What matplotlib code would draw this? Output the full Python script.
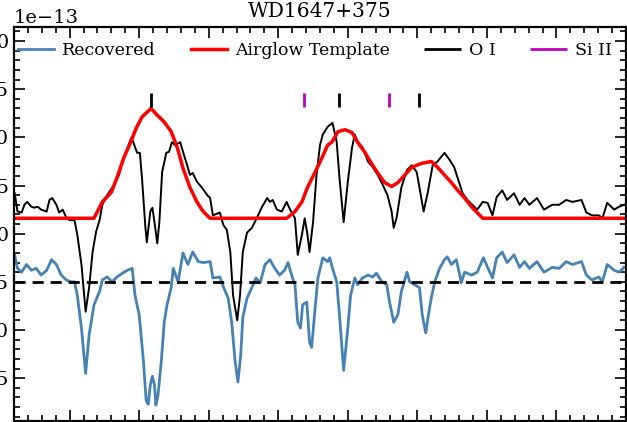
import numpy as np
import matplotlib
matplotlib.use("Agg")
import matplotlib.pyplot as plt
from matplotlib.ticker import MultipleLocator

plt.rcParams["font.family"] = ["DejaVu Serif"]
plt.rcParams["mathtext.fontset"] = "dejavuserif"

# observed spectrum (flux in 1e-13 units)
obs_wl = [1300.21, 1300.25, 1300.31, 1300.35, 1300.39, 1300.45, 1300.49, 1300.54, 1300.59, 1300.67,
          1300.71, 1300.75, 1300.81, 1300.85, 1300.90, 1300.95, 1301.00, 1301.07, 1301.11, 1301.17,
          1301.23, 1301.28, 1301.33, 1301.38, 1301.43, 1301.47, 1301.54, 1301.64, 1301.71, 1301.76,
          1301.81, 1301.89, 1301.93, 1301.97, 1302.01, 1302.04, 1302.09, 1302.11, 1302.16, 1302.19,
          1302.22, 1302.26, 1302.29, 1302.33, 1302.39, 1302.43, 1302.47, 1302.52, 1302.59, 1302.63,
          1302.69, 1302.73, 1302.77, 1302.83, 1302.90, 1302.98, 1303.02, 1303.06, 1303.16, 1303.21,
          1303.26, 1303.31, 1303.35, 1303.41, 1303.45, 1303.49, 1303.55, 1303.62, 1303.69, 1303.76,
          1303.84, 1303.88, 1303.92, 1303.98, 1304.05, 1304.12, 1304.17, 1304.24, 1304.28, 1304.34,
          1304.38, 1304.42, 1304.45, 1304.50, 1304.55, 1304.60, 1304.64, 1304.71, 1304.78, 1304.84,
          1304.88, 1304.94, 1305.00, 1305.06, 1305.10, 1305.14, 1305.21, 1305.29, 1305.36, 1305.43,
          1305.50, 1305.57, 1305.63, 1305.66, 1305.70, 1305.77, 1305.85, 1305.92, 1305.99, 1306.03,
          1306.09, 1306.15, 1306.22, 1306.29, 1306.39, 1306.46, 1306.53, 1306.61, 1306.65, 1306.72,
          1306.79, 1306.86, 1306.94, 1307.01, 1307.08, 1307.14, 1307.22, 1307.29, 1307.39, 1307.47,
          1307.54, 1307.61, 1307.72, 1307.82, 1307.94, 1308.04, 1308.14, 1308.23, 1308.36, 1308.43,
          1308.51, 1308.61, 1308.66, 1308.73, 1308.83, 1308.90, 1308.97]
obs_flux = [1.42, 1.23, 1.22, 1.30, 1.33, 1.28, 1.27, 1.28, 1.25, 1.23,
            1.35, 1.37, 1.30, 1.22, 1.25, 1.17, 1.14, 1.14, 0.99, 0.68,
            0.19, 0.44, 0.81, 1.02, 1.14, 1.30, 1.40, 1.51, 1.61, 1.75,
            1.85, 2.00, 1.92, 1.84, 1.84, 1.58, 1.06, 0.91, 1.23, 1.27,
            1.12, 0.90, 1.12, 1.64, 1.84, 1.85, 1.95, 1.92, 1.95, 1.85,
            1.71, 1.61, 1.63, 1.54, 1.48, 1.40, 1.37, 1.19, 1.22, 1.09,
            1.04, 0.81, 0.36, 0.10, 0.36, 0.81, 1.01, 1.06, 1.16, 1.27,
            1.37, 1.33, 1.35, 1.25, 1.23, 1.33, 1.25, 1.16, 0.78, 0.99,
            1.16, 0.99, 0.81, 1.12, 1.61, 1.92, 2.03, 2.11, 2.15, 1.95,
            1.58, 1.12, 1.54, 1.89, 2.03, 1.95, 1.90, 1.75, 1.69, 1.61,
            1.51, 1.40, 1.23, 1.06, 1.16, 1.48, 1.66, 1.71, 1.64, 1.48,
            1.23, 1.43, 1.71, 1.75, 1.84, 1.77, 1.69, 1.51, 1.42, 1.35,
            1.30, 1.25, 1.33, 1.32, 1.19, 1.38, 1.45, 1.35, 1.42, 1.30,
            1.37, 1.30, 1.37, 1.25, 1.30, 1.30, 1.35, 1.33, 1.35, 1.22,
            1.19, 1.19, 1.16, 1.32, 1.25, 1.28, 1.30]

# airglow template
tmpl_wl = [1300.21, 1301.35, 1301.47, 1301.60, 1301.68, 1301.78, 1301.86, 1301.96, 1302.04, 1302.11,
           1302.17, 1302.26, 1302.36, 1302.46, 1302.55, 1302.63, 1302.73, 1302.83, 1302.92, 1303.02,
           1304.12, 1304.24, 1304.34, 1304.42, 1304.53, 1304.63, 1304.71, 1304.77, 1304.86, 1304.96,
           1305.06, 1305.14, 1305.24, 1305.34, 1305.43, 1305.53, 1305.63, 1305.72, 1305.82, 1305.92,
           1306.06, 1306.20, 1306.29, 1306.39, 1306.49, 1306.58, 1306.68, 1306.79, 1306.94, 1308.99]
tmpl_flux = [1.16, 1.16, 1.33, 1.43, 1.58, 1.79, 1.92, 2.10, 2.21, 2.26,
             2.30, 2.23, 2.16, 2.06, 1.89, 1.68, 1.48, 1.33, 1.23, 1.16,
             1.16, 1.23, 1.33, 1.48, 1.64, 1.79, 1.92, 1.95, 2.06, 2.08,
             2.05, 1.95, 1.85, 1.73, 1.63, 1.53, 1.49, 1.53, 1.61, 1.69,
             1.73, 1.75, 1.69, 1.61, 1.53, 1.45, 1.37, 1.27, 1.16, 1.16]

# recovered spectrum
rec_wl = [1300.21, 1300.25, 1300.31, 1300.38, 1300.45, 1300.52, 1300.59, 1300.67, 1300.74, 1300.81,
          1300.88, 1300.95, 1301.02, 1301.07, 1301.11, 1301.17, 1301.23, 1301.28, 1301.35, 1301.43,
          1301.47, 1301.54, 1301.61, 1301.68, 1301.76, 1301.83, 1301.90, 1301.94, 1302.00, 1302.06,
          1302.10, 1302.13, 1302.16, 1302.19, 1302.22, 1302.24, 1302.27, 1302.32, 1302.36, 1302.40,
          1302.46, 1302.49, 1302.56, 1302.63, 1302.70, 1302.77, 1302.85, 1302.92, 1303.02, 1303.06,
          1303.16, 1303.21, 1303.28, 1303.33, 1303.38, 1303.42, 1303.46, 1303.49, 1303.55, 1303.62,
          1303.68, 1303.74, 1303.81, 1303.88, 1303.95, 1304.02, 1304.09, 1304.14, 1304.20, 1304.24,
          1304.28, 1304.32, 1304.35, 1304.41, 1304.45, 1304.48, 1304.53, 1304.57, 1304.64, 1304.71,
          1304.74, 1304.78, 1304.84, 1304.88, 1304.94, 1305.00, 1305.04, 1305.10, 1305.14, 1305.21,
          1305.29, 1305.36, 1305.41, 1305.49, 1305.56, 1305.60, 1305.66, 1305.72, 1305.77, 1305.85,
          1305.89, 1305.96, 1306.03, 1306.07, 1306.12, 1306.16, 1306.20, 1306.25, 1306.32, 1306.39,
          1306.43, 1306.49, 1306.56, 1306.61, 1306.63, 1306.68, 1306.78, 1306.86, 1306.95, 1307.01,
          1307.08, 1307.14, 1307.22, 1307.29, 1307.39, 1307.47, 1307.54, 1307.61, 1307.72, 1307.82,
          1307.94, 1308.04, 1308.14, 1308.23, 1308.36, 1308.43, 1308.51, 1308.61, 1308.66, 1308.73,
          1308.83, 1308.90, 1308.97]
rec_flux = [0.78, 0.64, 0.60, 0.68, 0.62, 0.64, 0.57, 0.62, 0.73, 0.68,
            0.57, 0.52, 0.50, 0.50, 0.36, 0.02, -0.45, -0.05, 0.26, 0.40,
            0.52, 0.55, 0.50, 0.55, 0.59, 0.62, 0.64, 0.36, 0.16, -0.31,
            -0.73, -0.77, -0.57, -0.48, -0.57, -0.78, -0.68, -0.31, 0.08, 0.26,
            0.44, 0.64, 0.50, 0.80, 0.68, 0.81, 0.71, 0.70, 0.71, 0.54,
            0.55, 0.45, 0.33, 0.08, -0.33, -0.54, -0.26, 0.13, 0.33, 0.44,
            0.54, 0.49, 0.68, 0.73, 0.64, 0.57, 0.62, 0.70, 0.55, 0.47,
            0.08, 0.02, 0.26, 0.29, -0.13, -0.18, 0.23, 0.54, 0.75, 0.71,
            0.75, 0.64, 0.50, 0.16, -0.42, 0.02, 0.36, 0.54, 0.47, 0.54,
            0.57, 0.55, 0.59, 0.50, 0.47, 0.29, 0.08, 0.16, 0.40, 0.60,
            0.50, 0.47, 0.44, 0.16, -0.03, 0.16, 0.33, 0.50, 0.64, 0.73,
            0.76, 0.68, 0.73, 0.57, 0.49, 0.60, 0.57, 0.60, 0.75, 0.65,
            0.54, 0.75, 0.81, 0.70, 0.78, 0.65, 0.71, 0.64, 0.71, 0.60,
            0.65, 0.64, 0.71, 0.68, 0.71, 0.57, 0.52, 0.55, 0.50, 0.68,
            0.62, 0.60, 0.65]

continuum = 0.5
oi_lines = [1302.17, 1304.87, 1306.03]
siii_lines = [1304.37, 1305.59]
mark_lo, mark_hi = 2.32, 2.46
scale = 1e-13

fig = plt.figure(figsize=(6.27, 4.22), dpi=100)
ax = fig.add_axes([14 / 627, 1 / 422, 612 / 627, 394 / 422])

ax.plot(rec_wl, np.array(rec_flux) * scale, color="steelblue", lw=2, label="Recovered")
ax.plot(tmpl_wl, np.array(tmpl_flux) * scale, color="red", lw=2.5, label="Airglow Template")
ax.plot(obs_wl, np.array(obs_flux) * scale, color="black", lw=1.4, zorder=1)
ax.axhline(continuum * scale, color="black", ls="--", lw=2, dashes=(4, 2.5))

ax.vlines(oi_lines, mark_lo * scale, mark_hi * scale, color="black", lw=2, label="O I")
ax.vlines(siii_lines, mark_lo * scale, mark_hi * scale, color="m", lw=2, label="Si II")

ax.set_xlim(1300.2, 1309.0)
ax.set_ylim(-0.945 * scale, 3.146 * scale)
ax.xaxis.set_major_locator(MultipleLocator(1))
ax.xaxis.set_minor_locator(MultipleLocator(0.2))
ax.yaxis.set_major_locator(MultipleLocator(0.5 * scale))
ax.yaxis.set_minor_locator(MultipleLocator(0.1 * scale))
ax.tick_params(which="both", direction="in", top=True, right=True, labelsize=14, width=1.2)
ax.tick_params(which="major", length=8)
ax.tick_params(which="minor", length=4.5)
ax.yaxis.get_offset_text().set_fontsize(14)
for s in ax.spines.values():
    s.set_linewidth(1.6)

handles, labels = ax.get_legend_handles_labels()
ax.legend(handles, labels, loc="upper left", ncol=4, frameon=False, fontsize=12.5,
          handlelength=2.1, handletextpad=0.45, columnspacing=2.0,
          borderaxespad=0, borderpad=0.4, bbox_to_anchor=(-0.005, 0.98))
ax.set_title("WD1647+375", fontsize=14.5, pad=7)

fig.savefig("out.png", dpi=100)
